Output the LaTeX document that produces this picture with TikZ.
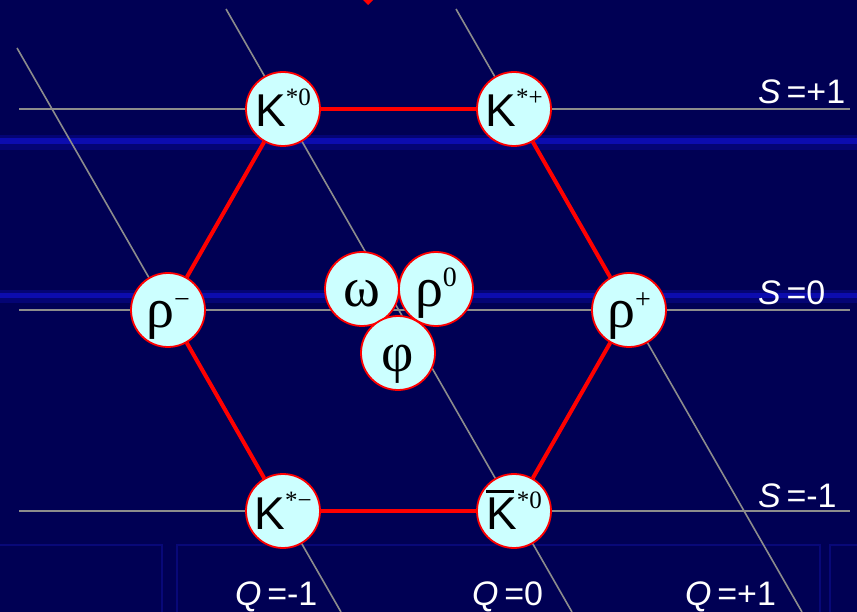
\documentclass[tikz,border=0pt]{standalone}
\usepackage{fontspec}
\setmainfont{Liberation Sans}
\newfontfamily\grk{Liberation Serif}
\definecolor{bgnavy}{RGB}{0,0,84}
\definecolor{bandblue}{RGB}{15,15,190}
\definecolor{frameblue}{RGB}{8,8,120}
\definecolor{ballfill}{RGB}{204,255,255}
\definecolor{gridgray}{RGB}{140,140,140}
\tikzset{
  ball/.style={circle, minimum size=74pt, inner sep=0pt, fill=ballfill, draw=red,
    line width=1.8pt, text=black, text height=36pt, text depth=0pt},
  gridline/.style={draw=gridgray, line width=1.6pt},
  hexedge/.style={draw=red, line width=4pt},
  lab/.style={text=white, font=\fontsize{34}{34}\selectfont, inner sep=0pt, anchor=base west},
}
\newcommand{\bigK}{\fontsize{46}{46}\selectfont K}
\newcommand{\gl}[1]{{\grk\fontsize{56}{56}\selectfont #1}}
\newcommand{\sups}[1]{\raisebox{21pt}{\grk\fontsize{25}{25}\selectfont #1}}
\newcommand{\gsups}[1]{\raisebox{20pt}{\grk\fontsize{28}{28}\selectfont #1}}
\begin{document}
\begin{tikzpicture}[x=1pt,y=-1pt]
\useasboundingbox (0,0) rectangle (857,612);
\fill[bgnavy] (0,0) rectangle (857,612);
% background bands
\fill[bandblue, opacity=0.3] (0,135) rectangle (857,150);
\fill[bandblue, opacity=0.8] (0,138) rectangle (857,144);
\fill[bandblue, opacity=0.3] (0,290) rectangle (857,303);
\fill[bandblue, opacity=0.8] (0,293) rectangle (857,298);
\draw[frameblue, line width=2pt] (-5,545) rectangle (162,620);
\draw[frameblue, line width=2pt] (177,545) rectangle (820,620);
\draw[frameblue, line width=2pt] (830,545) rectangle (870,620);
% small red tip at top
\fill[red] (363,0) -- (373,0) -- (368,5) -- cycle;

% grid line end points
\coordinate (sp1a) at (19,109);  \coordinate (sp1b) at (850,109);
\coordinate (s0a)  at (19,310);  \coordinate (s0b)  at (850,310);
\coordinate (sm1a) at (19,511);  \coordinate (sm1b) at (850,511);
\coordinate (qm1a) at (17,48);   \coordinate (qm1b) at (341,612);
\coordinate (q0a)  at (226,9);   \coordinate (q0b)  at (572,612);
\coordinate (qp1a) at (456,9);   \coordinate (qp1b) at (802,612);
\draw[gridline] (sp1a) -- (sp1b);
\draw[gridline] (s0a) -- (s0b);
\draw[gridline] (sm1a) -- (sm1b);
\draw[gridline] (qm1a) -- (qm1b);
\draw[gridline] (q0a) -- (q0b);
\draw[gridline] (qp1a) -- (qp1b);

% nodes
\node[ball] (k0)  at (283,109) {\bigK\sups{*0}};
\node[ball] (kp)  at (514,109) {\bigK\sups{*+}};
\node[ball] (rm)  at (168,310) {\gl{ρ}\gsups{−}};
\node[ball] (rp)  at (629,310) {\gl{ρ}\gsups{+}};
\node[ball] (km)  at (283,511) {\bigK\sups{*−}};
\node[ball] (kb)  at (514,511) {\makebox[0pt][l]{\raisebox{36pt}{\rule{28pt}{2.6pt}}}\bigK\sups{*0}};
\node[ball] (om)  at (362,289) {\gl{ω}};
\node[ball] (r0)  at (436,289) {\gl{ρ}\gsups{0}};
\node[ball] (ph)  at (398,353) {\gl{φ}};

% hexagon edges
\draw[hexedge] (k0) -- (kp);
\draw[hexedge] (kp) -- (rp);
\draw[hexedge] (rp) -- (kb);
\draw[hexedge] (kb) -- (km);
\draw[hexedge] (km) -- (rm);
\draw[hexedge] (rm) -- (k0);

% labels
\node[lab] (lsp1) at (758,104) {\textit{S}\,=+1};
\node[lab] (ls0)  at (758,305) {\textit{S}\,=0};
\node[lab] (lsm1) at (758,507) {\textit{S}\,=-1};
\node[lab] (lqm1) at (235,605) {\textit{Q}\,=-1};
\node[lab] (lq0)  at (472,605) {\textit{Q}\,=0};
\node[lab] (lqp1) at (685,605) {\textit{Q}\,=+1};
\end{tikzpicture}
\end{document}
